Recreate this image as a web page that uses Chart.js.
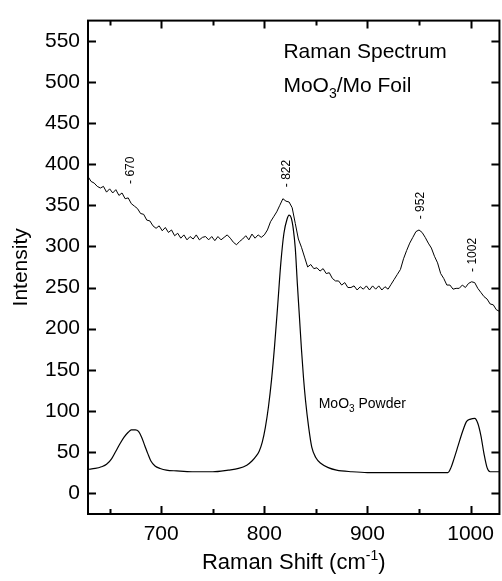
<!DOCTYPE html>
<html>
<head>
<meta charset="utf-8">
<script src="https://cdn.jsdelivr.net/npm/chart.js@4.4.1/dist/chart.umd.min.js"></script>
<style>
  body { margin: 0; background: #fff; }
  #wrap { width: 502px; height: 581px; }
</style>
</head>
<body>
<div id="wrap"><canvas id="raman"></canvas></div>
<script>
// MoO3 / Mo foil spectrum (noisy)
const foilShift = [629, 632, 635, 638, 641, 644, 647, 650, 653, 656, 659, 662, 665, 668, 671, 674, 677, 680, 683, 686,
  689, 692, 695, 698, 701, 704, 707, 710, 713, 716, 719, 722, 725, 728, 731, 734, 737, 740, 743, 746,
  749, 752, 755, 758, 761, 764, 767, 770, 773, 776, 779, 782, 785, 788, 791, 794, 797, 800, 803, 806,
  809, 812, 815, 818, 821, 824, 827, 830, 833, 836, 839, 842, 845, 848, 851, 854, 857, 860, 863, 866,
  869, 872, 875, 878, 881, 884, 887, 890, 893, 896, 899, 902, 905, 908, 911, 914, 917, 920, 923, 926,
  929, 932, 935, 938, 941, 944, 947, 950, 953, 956, 959, 962, 965, 968, 971, 974, 977, 980, 983, 986,
  989, 992, 995, 998, 1001, 1004, 1007, 1010, 1013, 1016, 1019, 1022, 1025, 1028];
const foilIntensity = [385, 379, 377, 373, 371, 373, 366, 370, 365, 369, 362, 365, 358, 359, 352, 349, 346, 340, 339, 332,
  331, 325, 322, 325, 319, 323, 317, 320, 313, 316, 310, 314, 308, 312, 309, 314, 308, 311, 312, 308,
  312, 307, 312, 308, 311, 314, 310, 305, 302, 306, 309, 313, 308, 315, 310, 314, 311, 314, 320, 330,
  336, 342, 350, 358, 355, 354, 347, 328, 309, 299, 287, 275, 278, 273, 274, 270, 273, 267, 268, 261,
  258, 258, 253, 256, 250, 250, 252, 247, 251, 248, 252, 247, 252, 248, 252, 247, 251, 248, 254, 260,
  266, 272, 285, 295, 304, 311, 318, 320, 317, 311, 304, 298, 288, 280, 267, 261, 253, 253, 248, 249,
  249, 253, 250, 255, 257, 256, 249, 244, 239, 236, 230, 229, 223, 221];

// MoO3 powder reference spectrum (smooth)
const powderShift = [629, 636, 642, 647, 652, 656, 660, 664, 668, 671, 675, 678, 681, 684, 687, 690, 694, 699, 705, 715,
  730, 750, 765, 775, 783, 788, 792, 795, 798, 801, 804, 807, 810, 813, 816, 819, 822, 824, 826, 828,
  830, 832, 834, 836, 838, 840, 843, 846, 850, 855, 862, 870, 885, 900, 930, 960, 978, 981, 984, 988,
  992, 996, 1000, 1004, 1007, 1010, 1013, 1016, 1019, 1028];
const powderIntensity = [29, 30, 32, 35, 42, 51, 60, 68, 74, 77, 77, 75, 68, 58, 48, 39, 33, 30, 28, 27,
  26, 26, 28, 30, 34, 39, 45, 51, 62, 80, 105, 138, 180, 229, 280, 316, 333, 338, 335, 322,
  298, 255, 215, 175, 140, 112, 80, 56, 43, 36, 31, 28, 26, 25, 25, 25, 25, 31, 42, 58,
  74, 87, 90, 91, 85, 70, 48, 31, 26, 26];

const peakShift = [670, 822, 952, 1002];
const peakLabelBase = [376, 372, 333, 269];

const xTicks = [700, 800, 900, 1000];
const xMinorTicks = [650, 750, 850, 950];
const yTicks = [0, 50, 100, 150, 200, 250, 300, 350, 400, 450, 500, 550];

const FONT = '"Liberation Sans", Arial, sans-serif';

// draws text with sub/superscript parts, returns width
function richText(ctx, parts, x, y, draw) {
  let w = 0;
  parts.forEach(p => {
    ctx.font = p.size + 'px ' + FONT;
    if (draw) ctx.fillText(p.t, x + w, y + (p.dy || 0));
    w += ctx.measureText(p.t).width;
  });
  return w;
}

const framePlugin = {
  id: 'frame',
  afterDraw(chart) {
    const ctx = chart.ctx;
    const { left, right, top, bottom } = chart.chartArea;
    const xs = chart.scales.x, ys = chart.scales.y;
    ctx.save();
    ctx.strokeStyle = '#000';
    ctx.lineWidth = 2;
    ctx.strokeRect(left, top, right - left, bottom - top);
    ctx.beginPath();
    xTicks.forEach(v => {
      const px = Math.round(xs.getPixelForValue(v)) + 0.5;
      ctx.moveTo(px, bottom); ctx.lineTo(px, bottom - 8);
      ctx.moveTo(px, top); ctx.lineTo(px, top + 8);
    });
    xMinorTicks.forEach(v => {
      const px = Math.round(xs.getPixelForValue(v)) + 0.5;
      ctx.moveTo(px, bottom); ctx.lineTo(px, bottom - 5);
      ctx.moveTo(px, top); ctx.lineTo(px, top + 5);
    });
    yTicks.forEach(v => {
      const py = Math.round(ys.getPixelForValue(v)) + 0.5;
      ctx.moveTo(left, py); ctx.lineTo(left + 8, py);
      ctx.moveTo(right, py); ctx.lineTo(right - 8, py);
    });
    ctx.stroke();

    ctx.fillStyle = '#000';
    ctx.textAlign = 'left';

    // peak labels
    ctx.font = '12px ' + FONT;
    ctx.textBaseline = 'middle';
    peakShift.forEach((s, i) => {
      ctx.save();
      ctx.translate(xs.getPixelForValue(s), ys.getPixelForValue(peakLabelBase[i]));
      ctx.rotate(-Math.PI / 2);
      ctx.fillText('- ' + s, 0, 0);
      ctx.restore();
    });
    ctx.textBaseline = 'alphabetic';

    // legend texts
    const tx = xs.getPixelForValue(818.5);
    ctx.font = '21px ' + FONT;
    ctx.fillText('Raman Spectrum', tx, ys.getPixelForValue(529));
    richText(ctx, [{ t: 'MoO', size: 21 }, { t: '3', size: 14, dy: 6 }, { t: '/Mo Foil', size: 21 }],
      tx, ys.getPixelForValue(488), true);
    richText(ctx, [{ t: 'MoO', size: 14 }, { t: '3', size: 10, dy: 4 }, { t: ' Powder', size: 14 }],
      xs.getPixelForValue(852.7), ys.getPixelForValue(103), true);

    // axis titles
    const xt = [{ t: 'Raman Shift (cm', size: 22 }, { t: '-1', size: 14, dy: -9 }, { t: ')', size: 22 }];
    const w = richText(ctx, xt, 0, 0, false);
    richText(ctx, xt, (left + right) / 2 - w / 2, 569, true);

    ctx.save();
    ctx.font = '21px ' + FONT;
    ctx.translate(27, (top + bottom) / 2);
    ctx.rotate(-Math.PI / 2);
    ctx.textAlign = 'center';
    ctx.fillText('Intensity', 0, 0);
    ctx.restore();
    ctx.restore();
  }
};

new Chart(document.getElementById('raman'), {
  type: 'line',
  data: {
    datasets: [
      {
        label: 'MoO3/Mo Foil',
        data: foilShift.map((s, i) => ({ x: s, y: foilIntensity[i] })),
        borderColor: '#000',
        borderWidth: 1,
        pointRadius: 0,
        tension: 0,
      },
      {
        label: 'MoO3 Powder',
        data: powderShift.map((s, i) => ({ x: s, y: powderIntensity[i] })),
        borderColor: '#000',
        borderWidth: 1.2,
        pointRadius: 0,
        cubicInterpolationMode: 'monotone',
      },
    ],
  },
  options: {
    responsive: true,
    maintainAspectRatio: false,
    animation: false,
    layout: { padding: { top: 10, right: 1, left: 0, bottom: 0 } },
    plugins: { legend: { display: false }, tooltip: { enabled: false } },
    scales: {
      x: {
        type: 'linear',
        min: 629,
        max: 1028,
        afterBuildTicks: s => { s.ticks = xTicks.map(v => ({ value: v })); },
        afterFit: s => { s.height = 67; },
        grid: { display: false, drawTicks: false },
        border: { display: false },
        ticks: { color: '#000', font: { family: FONT, size: 21 }, padding: 8, maxRotation: 0, autoSkip: false,
          callback: v => String(v) },
      },
      y: {
        min: -25.4,
        max: 574.6,
        afterBuildTicks: s => { s.ticks = yTicks.map(v => ({ value: v })); },
        afterFit: s => { s.width = 88; },
        grid: { display: false, drawTicks: false },
        border: { display: false },
        ticks: { color: '#000', font: { family: FONT, size: 21 }, padding: 8, autoSkip: false,
          callback: v => String(v) },
      },
    },
  },
  plugins: [framePlugin],
});
</script>
</body>
</html>
